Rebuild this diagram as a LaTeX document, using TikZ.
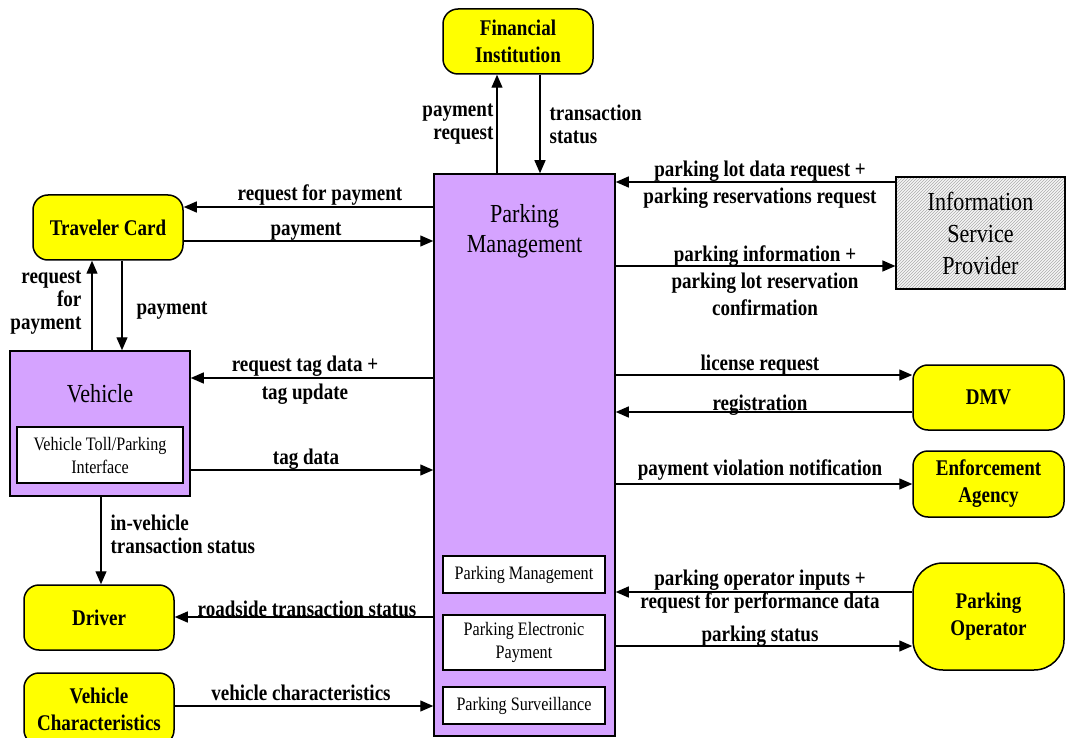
\documentclass[tikz,border=0pt]{standalone}
\usepackage{fontspec}
\setmainfont{Liberation Serif}[FakeStretch=0.85]
\usetikzlibrary{arrows.meta}
\usetikzlibrary{patterns}
\usetikzlibrary{positioning}

\definecolor{pmpurple}{RGB}{213,163,255}
\definecolor{extyellow}{RGB}{255,255,0}
\newcommand{\lblfont}{\bfseries\fontsize{22.4}{23}\selectfont}
\newcommand{\extfont}{\bfseries\fontsize{22.4}{27}\selectfont}
\newcommand{\modfont}{\fontsize{19}{23}\selectfont}
\newcommand{\titlefont}{\fontsize{26}{30}\selectfont}

\begin{document}
\begin{tikzpicture}[x=1pt, y=-1pt,
        external/.style={draw, fill=extyellow, rounded corners=15pt, line width=1.5pt, font=\extfont, align=center, inner sep=0pt},
        subsystem/.style={draw, fill=pmpurple, line width=1.5pt, inner sep=0pt},
        module/.style={draw, fill=white, line width=1.2pt, font=\modfont, align=center, inner sep=0pt, minimum width=162pt},
        flow/.style={-{Triangle[length=13pt,width=11pt]}, line width=1.3pt},
        lbl/.style={font=\lblfont, align=center, inner sep=0pt}
      ]
    \useasboundingbox (0,0) rectangle (1066,738);

    % parking subsystem
    \node[subsystem, minimum width=181pt, minimum height=562pt] (pm) at (524.5,455) {};
    \node[font=\titlefont, align=center, inner sep=0pt, below=31pt of pm.north] (pmtitle) {Parking\\Management};
    \node[module, minimum height=37pt] (pmmod) at (524,574.5) {Parking Management};
    \node[module, minimum height=55pt] (pep) at (524,642.5) {Parking Electronic\\Payment};
    \node[module, minimum height=37pt] (psv) at (524,705.5) {Parking Surveillance};

    % vehicle subsystem
    \node[subsystem, minimum width=180pt, minimum height=145pt] (veh) at (100,423.5) {};
    \node[font=\titlefont, inner sep=0pt, below=34pt of veh.north] (vehtitle) {Vehicle};
    \node[module, minimum width=166pt, minimum height=56pt] (vti) at (100,455) {Vehicle Toll/Parking\\Interface};

    % terminators
    \node[external, minimum width=150pt, minimum height=65pt] (fi) at (518,41.5) {Financial\\Institution};
    \node[external, minimum width=150pt, minimum height=65pt] (tc) at (108,227.5) {Traveler Card};
    \node[external, minimum width=150pt, minimum height=65pt] (drv) at (99,617.5) {Driver};
    \node[external, minimum width=150pt, minimum height=72pt] (vc) at (99,709) {Vehicle\\Characteristics};
    \node[external, minimum width=151pt, minimum height=65pt] (dmv) at (988.5,397.5) {DMV};
    \node[external, minimum width=151pt, minimum height=66pt] (enf) at (988.5,484) {Enforcement\\Agency};
    \node[external, minimum width=151pt, minimum height=107pt, rounded corners=30pt] (opr) at (988.5,616.5) {Parking\\Operator};
    \node[draw, line width=1.2pt, pattern=north east lines, pattern color=gray!65,
          preaction={fill=gray!6}, minimum width=169pt, minimum height=112pt, inner sep=0pt,
          font=\fontsize{26}{32}\selectfont, align=center] (isp) at (980.5,233) {Information\\Service\\Provider};

    % flows
    \draw[flow] (pm.north -| 497,0) -- (fi.south -| 497,0)
      node[lbl, anchor=east, align=right] at (494,124) {payment\\request};
    \draw[flow] (fi.south -| 540,0) -- (pm.north -| 540,0)
      node[lbl, anchor=west, align=left] at (549,124) {transaction\\status};
    \draw[flow] (pm.west |- 0,207) -- (tc.east |- 0,207)
      node[lbl] at (320,195) {request for payment};
    \draw[flow] (tc.east |- 0,241) -- (pm.west |- 0,241)
      node[lbl] at (306,232) {payment};
    \draw[flow] (veh.north -| 92,0) -- (tc.south -| 92,0)
      node[lbl, anchor=east, align=right] at (82,303) {request\\for\\payment};
    \draw[flow] (tc.south -| 122,0) -- (veh.north -| 122,0)
      node[lbl] at (172,311) {payment};
    \draw[flow] (isp.west |- 0,182) -- (pm.east |- 0,182)
      node[lbl] at (760,185) {parking lot data request +\\[4pt]parking reservations request};
    \draw[flow] (pm.east |- 0,266) -- (isp.west |- 0,266)
      node[lbl] at (765,281) {parking information +\\[4pt]parking lot reservation\\[4pt]confirmation};
    \draw[flow] (pm.west |- 0,378) -- (veh.east |- 0,378)
      node[lbl] at (305,380) {request tag data +\\[5pt]tag update};
    \draw[flow] (veh.east |- 0,470) -- (pm.west |- 0,470)
      node[lbl] at (306,459) {tag data};
    \draw[flow] (veh.south -| 101,0) -- (drv.north -| 101,0)
      node[lbl, anchor=west, align=left] at (110,534) {in-vehicle\\transaction status};
    \draw[flow] (pm.west |- 0,617) -- (drv.east |- 0,617)
      node[lbl] at (307,609) {roadside transaction status};
    \draw[flow] (vc.east |- 0,706) -- (pm.west |- 0,706)
      node[lbl] at (301,693) {vehicle characteristics};
    \draw[flow] (pm.east |- 0,375) -- (dmv.west |- 0,375)
      node[lbl] at (760,365) {license request};
    \draw[flow] (dmv.west |- 0,412) -- (pm.east |- 0,412)
      node[lbl] at (760,405) {registration};
    \draw[flow] (pm.east |- 0,484) -- (enf.west |- 0,484)
      node[lbl] at (760,470) {payment violation notification};
    \draw[flow] (opr.west |- 0,592) -- (pm.east |- 0,592)
      node[lbl] at (760,592) {parking operator inputs +\\request for performance data};
    \draw[flow] (pm.east |- 0,646) -- (opr.west |- 0,646)
      node[lbl] at (760,636) {parking status};

\end{tikzpicture}
\end{document}
